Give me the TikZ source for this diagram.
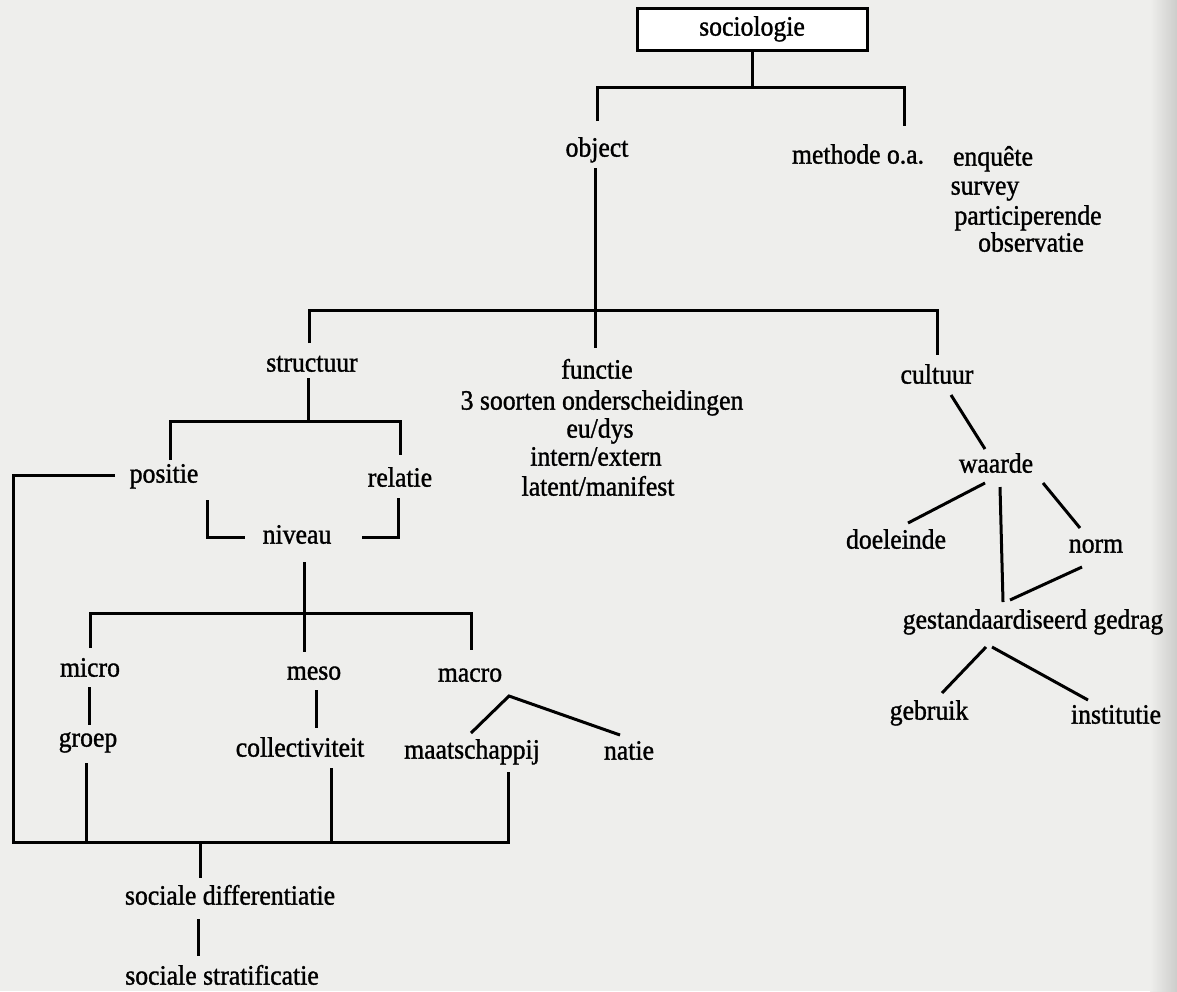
\documentclass[tikz,border=0pt]{standalone}
\usepackage{fontspec}
\setmainfont{Liberation Serif}[FakeStretch=0.92, FakeBold=1.2]
\usetikzlibrary{calc}
\definecolor{paper}{RGB}{238,238,236}
\definecolor{edge}{RGB}{205,205,203}
\tikzset{
  lbl/.style={inner sep=0pt, text height=10.5pt, text depth=3pt, font=\fontsize{15.9}{18}\selectfont},
  conn/.style={line width=0.6mm, line cap=butt},
}
\begin{document}
\begin{tikzpicture}[x=0.2mm,y=-0.2mm]
\fill[paper] (0,0) rectangle (1177,991);
\useasboundingbox (0,0) rectangle (1177,991);
\shade[left color=paper, right color=edge] (1150,0) rectangle (1177,991);

% nodes
\node[lbl, draw, line width=0.6mm, fill=white, minimum width=46mm, minimum height=8.4mm] (soc) at (752,29) {sociologie};
\node[lbl] (object) at (597,150) {object};
\node[lbl] (methode) at (858,157) {methode o.a.};
\node[lbl] (enq) at (993,159) {enquête};
\node[lbl] (survey) at (985,188) {survey};
\node[lbl] (part) at (1028,218) {participerende};
\node[lbl] (obs) at (1031,245) {observatie};

\node[lbl] (structuur) at (312,365) {structuur};
\node[lbl] (f1) at (597,372) {functie};
\node[lbl] (f2) at (602,403) {3 soorten onderscheidingen};
\node[lbl] (f3) at (600,431) {eu/dys};
\node[lbl] (f4) at (596,459) {intern/extern};
\node[lbl] (f5) at (598,489) {latent/manifest};
\node[lbl] (cultuur) at (937,377) {cultuur};

\node[lbl] (positie) at (164,476) {positie};
\node[lbl] (relatie) at (400,480) {relatie};
\node[lbl] (niveau) at (297,537) {niveau};

\node[lbl] (micro) at (90,670) {micro};
\node[lbl] (meso) at (314,673) {meso};
\node[lbl] (macro) at (470,675) {macro};
\node[lbl] (groep) at (88,740) {groep};
\node[lbl] (collectiviteit) at (300,750) {collectiviteit};
\node[lbl] (maatschappij) at (472,752) {maatschappij};
\node[lbl] (natie) at (629,753) {natie};
\node[lbl] (sdiff) at (230,898) {sociale differentiatie};
\node[lbl] (sstrat) at (222,978) {sociale stratificatie};

\node[lbl] (waarde) at (996,466) {waarde};
\node[lbl] (doeleinde) at (896,542) {doeleinde};
\node[lbl] (norm) at (1096,546) {norm};
\node[lbl] (gedrag) at (1033,622) {gestandaardiseerd gedrag};
\node[lbl] (gebruik) at (929,713) {gebruik};
\node[lbl] (institutie) at (1116,717) {institutie};

% junctions
\coordinate (j1) at (752,87);
\coordinate (j2) at (595,310);
\coordinate (j3) at (308,421);
\coordinate (j4) at (13,842);
\coordinate (j5) at (508,842);
\coordinate (j6) at (200,842);
\coordinate (j7) at (304,613);

% connectors
\draw[conn] (soc.south) -- (j1);
\draw[conn] ($(object)+(0,-29)$) |- (j1) -| ($(methode)+(46,-31)$);
\draw[conn] ($(object)+(-2,18)$) -- ($(f1)+(-2,-24)$);
\draw[conn] ($(structuur)+(-3,-22)$) |- (j2) -| ($(cultuur)+(0,-22)$);
\draw[conn] ($(structuur)+(-4,13)$) -- (j3);
\draw[conn] ($(positie)+(6,-16)$) |- (j3) -| ($(relatie)+(0,-25)$);
\draw[conn] ($(positie)+(-49,-1)$) -| (j4) -- (j5) -- ($(maatschappij)+(36,20)$);
\draw[conn] ($(groep)+(-2,23)$) -- ($(groep)+(-2,102)$);
\draw[conn] ($(collectiviteit)+(31,18)$) -- ($(collectiviteit)+(31,92)$);
\draw[conn] (j6) -- ($(sdiff)+(-30,-20)$);
\draw[conn] ($(sdiff)+(-32,21)$) -- ($(sstrat)+(-24,-22)$);
\draw[conn] ($(positie)+(43,24)$) |- ($(niveau)+(-52,0)$);
\draw[conn] ($(relatie)+(-2,18)$) |- ($(niveau)+(65,0)$);
\draw[conn] ($(niveau)+(7,25)$) -- ($(meso)+(-10,-21)$);
\draw[conn] ($(micro)+(0,-22)$) |- (j7) -| ($(macro)+(1,-25)$);
\draw[conn] ($(micro)+(-1,17)$) -- ($(groep)+(1,-15)$);
\draw[conn] ($(meso)+(2,17)$) -- ($(collectiviteit)+(16,-22)$);
\draw[conn] ($(maatschappij)+(-1,-19)$) -- ($(macro)+(39,21)$) -- ($(natie)+(-9,-18)$);

\draw[conn] ($(cultuur)+(14,18)$) -- ($(waarde)+(-11,-17)$);
\draw[conn] ($(waarde)+(-11,17)$) -- ($(doeleinde)+(12,-19)$);
\draw[conn] ($(waarde)+(4,21)$) -- ($(gedrag)+(-30,-20)$);
\draw[conn] ($(waarde)+(47,17)$) -- ($(norm)+(-16,-18)$);
\draw[conn] ($(norm)+(-14,21)$) -- ($(gedrag)+(-23,-22)$);
\draw[conn] ($(gedrag)+(-47,25)$) -- ($(gebruik)+(13,-20)$);
\draw[conn] ($(gedrag)+(-41,25)$) -- ($(institutie)+(-28,-17)$);
\end{tikzpicture}
\end{document}
